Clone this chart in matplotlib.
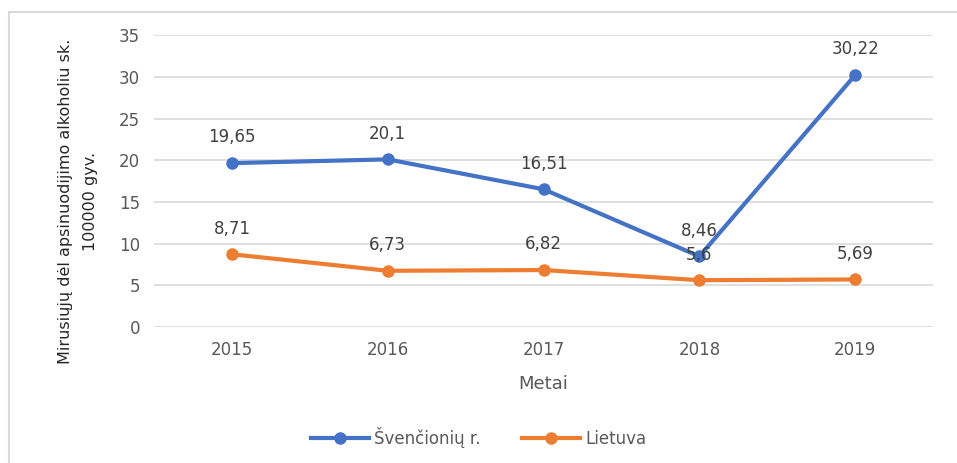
import matplotlib.pyplot as plt
from matplotlib.patches import Rectangle

years = ["2015", "2016", "2017", "2018", "2019"]
svencioniu = [19.65, 20.1, 16.51, 8.46, 30.22]
lietuva = [8.71, 6.73, 6.82, 5.6, 5.69]
svencioniu_labels = ["19,65", "20,1", "16,51", "8,46", "30,22"]
lietuva_labels = ["8,71", "6,73", "6,82", "5,6", "5,69"]

blue = "#4472C4"
orange = "#ED7D31"

fig = plt.figure(figsize=(9.57, 4.63), dpi=100)
fig.patches.append(Rectangle((9 / 957, -0.1), 1.1, 1.1 - 12 / 463, transform=fig.transFigure,
                             fill=False, edgecolor="#D9D9D9", linewidth=1.5))
ax = fig.add_axes([0.161, 0.294, 0.814, 0.630])

x = list(range(len(years)))
ax.plot(x, svencioniu, color=blue, linewidth=3, marker="o", markersize=8,
        label="Švenčionių r.", zorder=3)
ax.plot(x, lietuva, color=orange, linewidth=3, marker="o", markersize=8,
        label="Lietuva", zorder=3)

for xi, v, t in zip(x, svencioniu, svencioniu_labels):
    ax.annotate(t, (xi, v), xytext=(0, 12), textcoords="offset points",
                ha="center", va="bottom", fontsize=12, color="#404040")
for xi, v, t in zip(x, lietuva, lietuva_labels):
    ax.annotate(t, (xi, v), xytext=(0, 12), textcoords="offset points",
                ha="center", va="bottom", fontsize=12, color="#404040")

ax.set_xlim(-0.5, 4.5)
ax.set_ylim(0, 35)
ax.set_yticks(range(0, 36, 5))
ax.set_xticks(x)
ax.set_xticklabels(years)
ax.grid(axis="y", color="#D9D9D9", linewidth=1.2)
ax.set_axisbelow(True)
for s in ax.spines.values():
    s.set_visible(False)
ax.tick_params(length=0, labelsize=12, colors="#595959", pad=10)

ax.set_xlabel("Metai", fontsize=13, color="#595959", labelpad=12)
ax.set_ylabel("Mirusiųjų dėl apsinuodijimo alkoholiu sk.\n100000 gyv.",
              fontsize=11.5, color="#262626", linespacing=1.8)
ax.yaxis.set_label_coords(-0.072, 0.43)

fig.legend(loc="lower center", bbox_to_anchor=(0.5, 0.0), ncol=2, frameon=False,
           fontsize=12, labelcolor="#595959", handlelength=3.5, columnspacing=2.5,
           handletextpad=0.3)

fig.savefig("out.png", dpi=100)
